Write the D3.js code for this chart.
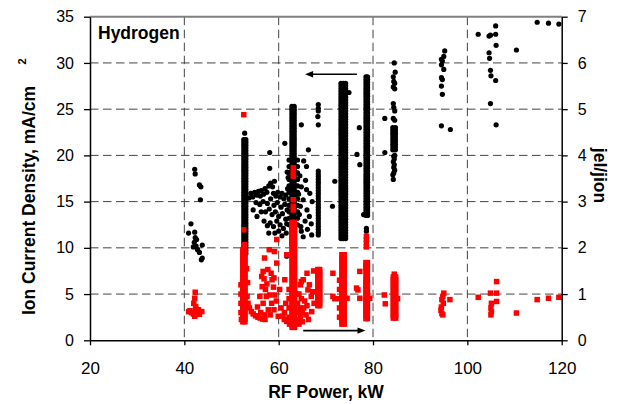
<!DOCTYPE html>
<html>
<head>
<meta charset="utf-8">
<script src="https://cdn.jsdelivr.net/npm/d3@7"></script>
<style>
  body { margin: 0; background: #fff; }
  svg { display: block; font-family: "Liberation Sans", Arial, sans-serif; }
</style>
</head>
<body>
<svg id="chart" width="625" height="404"></svg>
<script>
// ---- data ----
const xTicks = [20, 40, 60, 80, 100, 120]
const yLeftTicks = [0, 5, 10, 15, 20, 25, 30, 35]
const yRightTicks = [0, 1, 2, 3, 4, 5, 6, 7]

// ion current density, mA/cm2 (left axis) - scattered points
const ionSparse = [
  [42.2,18.5],[42.3,18.0],[43.2,16.8],[43.5,16.6],[43.4,15.2],[41.4,12.6],[40.9,11.6],[42.2,11.7],
  [42.3,11.1],[42.1,10.6],[42.5,10.2],[43.8,10.3],[42.8,9.8],[43.2,9.5],[43.8,8.9],[43.6,8.7],[42.6,10.9],[41.9,10.1],
  [52.8,22.4],
  [53.7,15.4],[54.1,15.9],[54.5,15.5],[54.9,16.0],[55.3,15.7],[55.7,16.1],[56.1,15.6],[56.3,16.2],[56.8,15.8],
  [57.1,16.4],[57.5,16.0],[57.9,16.7],[58.3,17.0],[58.7,16.6],[59.1,17.2],[58.9,15.9],[59.4,15.6],[59.8,16.0],
  [60.3,15.5],[60.7,15.9],[61.1,15.3],[61.5,15.7],[61.9,16.4],[55.2,14.9],[56.0,14.7],[56.7,15.0],[57.6,14.8],
  [58.3,15.3],[59.0,14.6],[59.7,14.9],[60.5,14.4],[61.3,14.7],[61.8,14.1],[57.2,13.9],[58.0,14.2],[58.6,13.6],
  [59.3,13.9],[60.0,13.4],[60.8,13.7],[61.5,13.1],[58.2,12.7],[58.9,12.3],[59.6,12.9],[60.3,12.5],[61.0,12.1],
  [61.7,12.6],[59.2,11.6],[60.0,11.8],[60.7,11.3],[61.6,11.6],[54.6,14.1],[55.4,13.4],[56.3,13.9],[56.9,12.9],
  [57.6,12.4],[57.9,11.6],[61.7,9.1],
  [58.1,20.3],[58.1,18.6],[61.3,21.3],[64.8,23.3],[66.3,20.6],[65.9,18.8],[62.0,17.6],[61.8,18.2],
  [64.8,16.6],[65.9,16.3],[66.6,15.9],[65.2,15.2],[64.6,14.5],[66.0,14.1],[66.5,13.4],[65.6,12.9],[64.8,11.8],
  [65.2,11.2],[66.1,12.0],[64.2,15.8],[64.4,13.6],[65.7,17.3],[67.1,15.0],[66.9,12.6],[64.5,17.8],[65.3,19.4],
  [64.7,12.3],[67.0,11.4],
  [68.4,25.5],[68.4,25.1],[68.4,24.8],[68.3,24.2],[68.4,23.3],
  [74.9,26.8],[71.9,17.2],[71.4,14.5],[77.1,23.0],[76.6,20.1],[77.2,19.0],[78.0,13.6],[78.6,12.1],[78.6,11.8],
  [84.5,30.0],[84.7,29.0],[84.3,28.5],[84.4,28.0],[84.6,27.8],[84.3,27.4],[84.6,27.2],[84.3,25.6],[84.4,25.2],
  [84.6,24.8],[82.5,24.0],[84.3,24.0],[84.6,23.8],[82.5,20.3],[84.6,20.0],[84.4,19.9],[84.5,19.6],[84.3,19.3],
  [84.5,19.0],[84.4,18.7],[84.6,18.4],[84.4,18.1],[84.2,17.9],[84.3,17.4],
  [95.2,31.3],[95.0,30.7],[94.5,30.4],[94.7,30.2],[94.5,29.8],[95.0,29.3],[94.5,28.4],[94.7,28.2],[94.5,27.5],
  [94.7,26.6],[94.5,23.2],[96.4,22.8],
  [102.3,33.1],[104.6,32.9],[104.9,33.0],[106.0,34.0],[106.0,33.1],[106.1,31.9],[104.6,31.1],[104.7,30.5],
  [110.4,31.4],[104.9,29.2],[105.0,28.6],[106.0,28.1],[104.9,25.6],[106.1,23.3],[114.8,34.4],[117.2,34.3],[119.4,34.2]
]

// dense vertical runs of the ion current (x positions, y values)
const ion53x = [52.6, 53.05]
const ion53y = [21.7,21.4,21.1,20.8,20.5,20.2,19.9,19.6,19.3,19.0,18.7,18.4,18.1,17.8,17.5,17.2,16.9,16.6,16.3,16.0,
  15.7,15.4,15.1,14.8,14.5,14.2,13.9,13.6,13.3,13.0,12.7,12.4,12.1,11.8,11.5,11.2,10.9,10.6,10.3,10.0,9.7,9.4]
const ion63x = [62.8, 63.3]
const ion63y = [25.3,25.0,24.7,24.4,24.1,23.8,23.5,23.2,22.9,22.6,22.3,22.0,21.7,21.4,21.1,20.8,20.5,20.2,19.9,19.6,
  19.3,19.0,18.7,18.4,18.1,17.8,17.5,17.2,16.9,16.6,16.3,16.0,15.7,15.4,15.1,14.8,14.5,14.2,13.9,13.6,13.3,13.0,
  12.7,12.4,12.1,11.8,11.5,11.2,10.9,10.6,10.3]
const ion63wideX = [62.2, 64.0]
const ion63wideY = [19.5,18.8,18.1,17.4,16.7,16.0,15.3,14.6,13.9,13.2,12.5]
const ion68x = [68.4]
const ion68y = [18.3,18.0,17.7,17.4,17.1,16.8,16.5,16.2,15.9,15.6,15.3,15.0,14.7,14.4,14.1,13.8,13.5,13.2,12.9,
  12.6,12.3,12.0,11.7,11.4]
const ion74x = [73.2, 73.7, 74.2]
const ion74y = [27.8,27.5,27.2,26.9,26.6,26.3,26.0,25.7,25.4,25.1,24.8,24.5,24.2,23.9,23.6,23.3,23.0,22.7,22.4,22.1,
  21.8,21.5,21.2,20.9,20.6,20.3,20.0,19.7,19.4,19.1,18.8,18.5,18.2,17.9,17.6,17.3,17.0,16.7,16.4,16.1,15.8,15.5,
  15.2,14.9,14.6,14.3,14.0,13.7,13.4,13.1,12.8,12.5,12.2,11.9,11.6,11.3,11.0]
const ion79x = [78.5, 78.85]
const ion79y = [28.5,28.2,27.9,27.6,27.3,27.0,26.7,26.4,26.1,25.8,25.5,25.2,24.9,24.6,24.3,24.0,23.7,23.4,23.1,22.8,
  22.5,22.2,21.9,21.6,21.3,21.0,20.7,20.4,20.1,19.8,19.5,19.2,18.9,18.6,18.3,18.0,17.7,17.4,17.1,16.8,16.5,16.2,
  15.9,15.6,15.3,15.0,14.7,14.4,14.1,13.8,13.5]
const ion84x = [84.2, 84.75]
const ion84y = [23.0,22.7,22.4,22.1,21.8,21.5,21.2,20.9,20.6]

// jel/jion ratio (right axis) - scattered points
const ratioSparse = [
  [42.3,1.04],[42.2,0.91],[42.0,0.80],[42.4,0.73],[40.9,0.62],[41.5,0.60],[43.0,0.66],[43.7,0.62],[42.2,0.52],
  [41.9,0.57],[42.7,0.58],[42.4,0.68],[43.2,0.56],[41.2,0.64],[42.9,0.62],
  [52.6,4.88],[52.6,2.39],[52.7,2.07],[52.0,1.2],[52.0,1.0],[52.0,0.8],[52.0,0.6],[52.1,0.45],[53.3,0.95],
  [53.5,0.8],[53.8,0.7],[54.2,0.62],[54.6,0.57],[55.1,0.53],[55.6,0.5],[56.1,0.48],[56.6,0.46],[57.1,0.45],
  [53.4,1.25],[53.2,1.55],
  [59.6,2.18],[59.1,1.92],[58.0,1.96],[57.0,1.78],[57.7,1.53],[58.4,1.45],[56.4,1.38],[56.9,1.33],[58.6,1.31],
  [59.0,1.35],[56.5,1.16],[61.3,1.31],[61.7,1.85],[58.1,0.98],[57.4,0.95],[59.2,0.98],[58.5,0.80],[56.7,0.80],
  [57.8,0.66],[59.0,0.66],[59.9,0.52],[60.9,0.52],[61.7,0.41],[57.2,1.1],[58.9,1.15],[57.5,1.22],[55.5,0.72],
  [56.0,0.95],[60.2,1.1],[59.5,0.85],[60.5,0.7],[61.2,0.6],[56.2,0.6],[57.0,0.55],[58.2,0.55],[59.6,1.67],[56.7,1.49],
  [63.1,2.82],[63.1,2.90],[63.1,3.04],[63.1,3.55],[63.1,3.63],[63.1,3.73],[62.2,1.1],[62.2,0.9],[62.2,0.7],
  [62.2,0.5],[62.3,0.35],[63.9,1.0],[64.0,0.8],[64.1,0.6],[64.0,0.45],[64.3,0.35],[61.5,0.8],[61.2,0.45],
  [64.8,0.9],[65.3,0.7],[65.8,0.55],[66.3,0.45],[64.6,0.5],[65.0,0.4],
  [65.2,1.31],[66.2,1.09],[66.9,0.95],[65.5,0.85],[66.0,0.75],[64.5,0.7],[65.0,0.6],[67.0,0.62],[67.5,0.8],
  [64.3,1.0],[64.6,1.2],[66.5,1.2],[67.2,1.05],[64.8,1.27],[66.0,1.45],[67.4,1.5],
  [71.5,1.45],[71.5,0.95],[71.9,0.9],[72.9,1.3],[72.9,1.1],[72.9,0.9],[72.9,0.7],[72.9,0.5],[74.5,0.91],
  [76.5,1.13],[77.2,0.91],[77.2,1.49],[76.8,1.09],
  [78.6,2.25],[78.6,2.18],[78.6,2.10],[78.6,2.02],[79.3,0.91],
  [82.4,0.98],[82.6,0.79],[85.2,0.9],
  [95.0,1.02],[94.8,0.95],[94.6,0.88],[94.9,0.80],[94.5,0.72],[94.4,0.65],[94.6,0.58],[94.8,0.55],[96.3,0.88],
  [102.3,0.93],[104.9,1.02],[106.2,1.27],[106.2,1.02],[106.2,0.84],[105.1,0.80],[105.0,0.70],[105.1,0.62],
  [105.0,0.55],[110.4,0.59],[114.8,0.88],[117.2,0.91],[119.4,0.93]
]

// dense vertical runs of the ratio
const ratio53x = [52.4, 52.85]
const ratio53y = [1.96,1.90,1.84,1.78,1.72,1.66,1.60,1.54,1.48,1.42,1.36,1.30,1.24,1.18,1.12,1.06,1.00,0.94,0.88,
  0.82,0.76,0.70,0.64,0.58,0.52,0.46,0.40]
const ratio63x = [62.85, 63.35]
const ratio63y = [2.55,2.49,2.43,2.37,2.31,2.25,2.19,2.13,2.07,2.01,1.95,1.89,1.83,1.77,1.71,1.65,1.59,1.53,1.47,
  1.41,1.35,1.29,1.23,1.17,1.11,1.05,0.99,0.93,0.87,0.81,0.75,0.69,0.63,0.57,0.51,0.45,0.39,0.33,0.28]
const ratio68x = [68.3, 68.7]
const ratio68y = [1.53,1.47,1.41,1.35,1.29,1.23,1.17,1.11,1.05,0.99,0.93,0.87,0.81,0.75]
const ratio74x = [73.4, 73.9]
const ratio74y = [1.85,1.79,1.73,1.67,1.61,1.55,1.49,1.43,1.37,1.31,1.25,1.19,1.13,1.07,1.01,0.95,0.89,0.83,0.77,
  0.71,0.65,0.59,0.53,0.47,0.41,0.35]
const ratio79x = [78.5, 78.8]
const ratio79y = [1.68,1.62,1.56,1.50,1.40,1.31,1.25,1.19,1.13,1.07,1.01,0.95,0.89,0.83,0.77,0.71,0.65,0.59,0.53,0.47]
const ratio84x = [84.3, 84.8]
const ratio84y = [1.37,1.31,1.25,1.19,1.13,1.07,1.01,0.95,0.89,0.83,0.77,0.71,0.65,0.59,0.53,0.48]
const ratio84top = [[84.5,1.43]]

// arrows: power ramp-down (upper, on ion current) and ramp-up (lower, on ratio)
const arrowDown = { from: 76.6, to: 65.6, y: 28.77 }
const arrowUp = { from: 65.2, to: 78.4, y: 0.21 }

// ---- layout ----
const svg = d3.select('#chart')
const plotLeft = 90, plotRight = 561.7, plotTop = 16.7, plotBottom = 340.3

const x = d3.scaleLinear().domain([20, 120]).range([plotLeft, plotRight])
const yL = d3.scaleLinear().domain([0, 35]).range([plotBottom, plotTop])
const yR = d3.scaleLinear().domain([0, 7]).range([plotBottom, plotTop])

function grid(xs, ys) {
  return xs.flatMap(a => ys.map(b => [a, b]))
}

const ionPoints = ionSparse
  .concat(grid(ion53x, ion53y))
  .concat(grid(ion63x, ion63y))
  .concat(grid(ion63wideX, ion63wideY))
  .concat(grid(ion68x, ion68y))
  .concat(grid(ion74x, ion74y))
  .concat(grid(ion79x, ion79y))
  .concat(grid(ion84x, ion84y))

const ratioPoints = ratioSparse
  .concat(grid(ratio53x, ratio53y))
  .concat(grid(ratio63x, ratio63y))
  .concat(grid(ratio68x, ratio68y))
  .concat(grid(ratio74x, ratio74y))
  .concat(grid(ratio79x, ratio79y))
  .concat(grid(ratio84x, ratio84y))
  .concat(ratio84top)

// dashed gridlines
const gridColor = '#444'
svg.append('g')
  .selectAll('line')
  .data(yLeftTicks.filter(d => d > 0 && d < 35))
  .enter()
  .append('line')
  .attr('x1', plotLeft).attr('x2', plotRight)
  .attr('y1', d => yL(d)).attr('y2', d => yL(d))
  .attr('stroke', gridColor)
  .attr('stroke-width', 1)
  .attr('stroke-dasharray', '8.5,4.5')

svg.append('g')
  .selectAll('line')
  .data(xTicks.filter(d => d > 20 && d < 120))
  .enter()
  .append('line')
  .attr('x1', d => x(d)).attr('x2', d => x(d))
  .attr('y1', plotTop).attr('y2', plotBottom)
  .attr('stroke', gridColor)
  .attr('stroke-width', 1)
  .attr('stroke-dasharray', '8.5,4.5')

// top border of the plot area
svg.append('line')
  .attr('x1', plotLeft).attr('x2', plotRight)
  .attr('y1', plotTop).attr('y2', plotTop)
  .attr('stroke', '#808080')
  .attr('stroke-width', 2)

// ion current density - black dots
svg.append('g')
  .selectAll('circle')
  .data(ionPoints)
  .enter()
  .append('circle')
  .attr('cx', d => x(d[0]))
  .attr('cy', d => yL(d[1]))
  .attr('r', 2.6)
  .attr('fill', '#000')

// jel/jion - red squares
const sq = 5.5
svg.append('g')
  .selectAll('rect')
  .data(ratioPoints)
  .enter()
  .append('rect')
  .attr('x', d => x(d[0]) - sq / 2)
  .attr('y', d => yR(d[1]) - sq / 2)
  .attr('width', sq)
  .attr('height', sq)
  .attr('fill', '#ff0000')

// axes
const gLeft = svg.append('g')
  .attr('transform', `translate(${plotLeft},0)`)
  .call(d3.axisLeft(yL).tickValues(yLeftTicks).tickSize(6).tickSizeOuter(0).tickPadding(10))
const gRight = svg.append('g')
  .attr('transform', `translate(${plotRight},0)`)
  .call(d3.axisRight(yR).tickValues(yRightTicks).tickFormat(d3.format('d'))
    .tickSize(6).tickSizeOuter(0).tickPadding(10))
const gBottom = svg.append('g')
  .attr('transform', `translate(0,${plotBottom})`)
  .call(d3.axisBottom(x).tickValues(xTicks).tickSize(5).tickSizeOuter(0).tickPadding(17))

;[gLeft, gRight, gBottom].forEach(g => {
  g.select('.domain').attr('stroke', '#000').attr('stroke-width', 1.5)
  g.selectAll('.tick line').attr('stroke', '#000').attr('stroke-width', 1.3)
  g.selectAll('.tick text')
    .attr('fill', '#000')
    .style('font-family', '"Liberation Sans", Arial, sans-serif')
})
gLeft.selectAll('.tick text').style('font-size', '16px')
gRight.selectAll('.tick text').style('font-size', '16px')
gBottom.selectAll('.tick text').style('font-size', '17px')

// arrows
function arrow(a, scale) {
  const y = scale(a.y)
  const x1 = x(a.from), x2 = x(a.to)
  const dir = Math.sign(x2 - x1)
  svg.append('line')
    .attr('x1', x1).attr('x2', x2 - dir * 5)
    .attr('y1', y).attr('y2', y)
    .attr('stroke', '#000')
    .attr('stroke-width', 1.6)
  svg.append('path')
    .attr('d', `M${x2},${y} L${x2 - dir * 8},${y - 3.2} L${x2 - dir * 8},${y + 3.2} Z`)
    .attr('fill', '#000')
}
arrow(arrowDown, yL)
arrow(arrowUp, yR)

// texts
svg.append('text')
  .attr('x', 98).attr('y', 39)
  .attr('font-size', 17.5).attr('font-weight', 'bold')
  .text('Hydrogen')

svg.append('text')
  .attr('transform', `translate(35,200.5) rotate(-90)`)
  .attr('text-anchor', 'middle')
  .attr('font-size', 17.5).attr('font-weight', 'bold')
  .text('Ion Current Density, mA/cm')

svg.append('text')
  .attr('transform', `translate(25.5,61.5) rotate(-90)`)
  .attr('text-anchor', 'middle')
  .attr('font-size', 11).attr('font-weight', 'bold')
  .text('2')

svg.append('text')
  .attr('transform', `translate(594,175.5) rotate(90)`)
  .attr('text-anchor', 'middle')
  .attr('font-size', 17.5).attr('font-weight', 'bold')
  .text('jel/jion')

svg.append('text')
  .attr('x', 326).attr('y', 398)
  .attr('text-anchor', 'middle')
  .attr('font-size', 17.5).attr('font-weight', 'bold')
  .text('RF Power, kW')
</script>
</body>
</html>
